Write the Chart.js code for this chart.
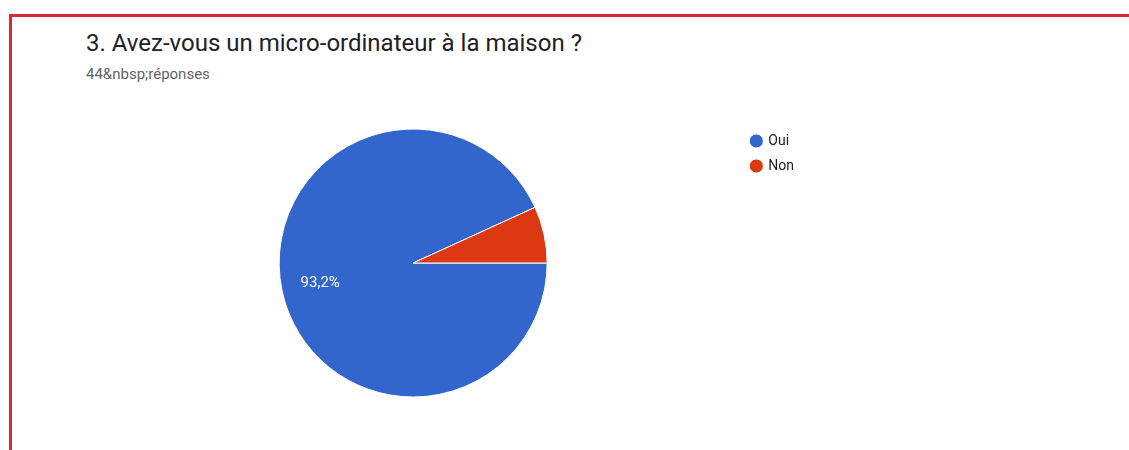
<!DOCTYPE html>
<html>
<head>
<meta charset="utf-8">
<script src="https://cdn.jsdelivr.net/npm/chart.js@4/dist/chart.umd.min.js"></script>
<style>
  html, body { margin: 0; padding: 0; background: #ffffff; }
  body { width: 1129px; height: 450px; position: relative; overflow: hidden; font-family: Roboto, "Liberation Sans", Arial, sans-serif; }
  #frameTop { position: absolute; left: 9px; top: 14px; width: 1120px; height: 3px; background: #d42a38; }
  #frameLeft { position: absolute; left: 9px; top: 14px; width: 3px; height: 436px; background: #d42a38; }
  #title { position: absolute; left: 86px; top: 31px; font-size: 24px; line-height: 24px; color: #202124; white-space: nowrap; }
  #subtitle { position: absolute; left: 86px; top: 67px; font-size: 15px; line-height: 15px; color: #5f6368; white-space: nowrap; }
  #wrap { position: absolute; left: 86px; top: 123px; width: 718px; height: 280px; }
</style>
</head>
<body>
<div id="frameTop"></div>
<div id="frameLeft"></div>
<div id="title">3. Avez-vous un micro-ordinateur à la maison ?</div>
<div id="subtitle">44&amp;nbsp;réponses</div>
<div id="wrap"><canvas id="c"></canvas></div>
<script>
const categories = ["Oui", "Non"];
const counts = [41, 3];
const colors = ["#3366cc", "#dc3912"];

const pctLabels = {
  id: 'pctLabels',
  afterDatasetsDraw(chart) {
    const ctx = chart.ctx;
    const meta = chart.getDatasetMeta(0);
    const total = counts.reduce((a, b) => a + b, 0);
    meta.data.forEach((arc, i) => {
      const pct = counts[i] / total * 100;
      if (pct < 10) return;
      const p = arc.getProps(['x', 'y', 'startAngle', 'endAngle', 'outerRadius'], true);
      const mid = (p.startAngle + p.endAngle) / 2;
      const r = p.outerRadius * 0.71;
      ctx.save();
      ctx.fillStyle = '#ffffff';
      ctx.font = '15px Roboto, "Liberation Sans", Arial, sans-serif';
      ctx.textAlign = 'center';
      ctx.textBaseline = 'middle';
      ctx.fillText(pct.toFixed(1).replace('.', ',') + '%', p.x + Math.cos(mid) * r, p.y + Math.sin(mid) * r);
      ctx.restore();
    });
  }
};

new Chart(document.getElementById('c'), {
  type: 'pie',
  data: {
    labels: categories,
    datasets: [{
      data: counts,
      backgroundColor: colors,
      borderColor: '#ffffff',
      borderWidth: 1,
      radius: 134
    }]
  },
  options: {
    responsive: true,
    maintainAspectRatio: false,
    animation: false,
    rotation: 90,
    layout: { padding: 0 },
    plugins: {
      tooltip: { enabled: false },
      legend: {
        position: 'right',
        align: 'start',
        labels: {
          usePointStyle: true,
          pointStyle: 'circle',
          boxWidth: 10,
          boxHeight: 10,
          padding: 11,
          color: '#222222',
          font: { size: 14, family: 'Roboto, "Liberation Sans", Arial, sans-serif' }
        }
      }
    }
  },
  plugins: [pctLabels]
});
</script>
</body>
</html>
